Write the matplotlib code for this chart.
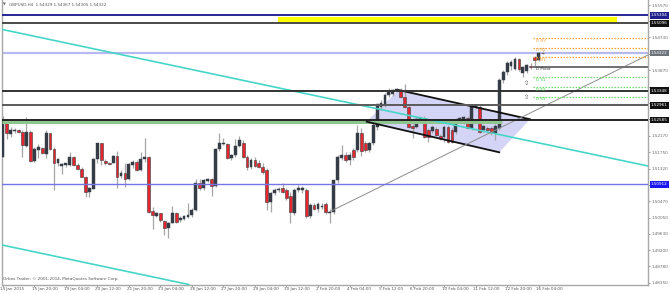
import numpy as np
import matplotlib
matplotlib.use("Agg")
import matplotlib.pyplot as plt
import matplotlib.transforms as mtransforms
from matplotlib.patches import Polygon, Rectangle

# GBPUSD H4 bars, 14 Jan 2015 12:00 .. 16 Feb 2015 08:00
opens = [1.51631, 1.52566, 1.52220, 1.52298, 1.52324, 1.52281, 1.51917, 1.52281, 1.51527, 1.51804,
         1.51848, 1.51701, 1.52237, 1.51822, 1.51458, 1.51397, 1.51415, 1.51415, 1.51631, 1.51415,
         1.51302, 1.51112, 1.50722, 1.50800, 1.51571, 1.51978, 1.51519, 1.51475, 1.51475, 1.51649,
         1.51129, 1.51198, 1.51060, 1.51415, 1.51501, 1.51285, 1.51562, 1.51631, 1.50220, 1.50090,
         1.50159, 1.49968, 1.49769, 1.49916, 1.50159, 1.49986, 1.50003, 1.50072, 1.50116, 1.50246,
         1.50938, 1.50808, 1.51008, 1.51042, 1.50869, 1.51822, 1.51961, 1.51961, 1.51597, 1.51675,
         1.51909, 1.51987, 1.51623, 1.51363, 1.51545, 1.51467, 1.51363, 1.51285, 1.50454, 1.50688,
         1.50766, 1.50818, 1.50766, 1.50610, 1.50169, 1.50766, 1.50766, 1.50766, 1.50091, 1.50377,
         1.50273, 1.50325, 1.50403, 1.50169, 1.50195, 1.51026, 1.51597, 1.51675, 1.51545, 1.51805,
         1.51805, 1.52247, 1.51987, 1.51805, 1.51987, 1.52402, 1.52922, 1.52974, 1.53233, 1.53259,
         1.53337, 1.53363, 1.53182, 1.52922, 1.52428, 1.52402, 1.52584, 1.52636, 1.52325, 1.52299,
         1.52351, 1.52169, 1.52143, 1.52402, 1.52325, 1.52273, 1.52558, 1.52506, 1.52636, 1.52376,
         1.52922, 1.52922, 1.52325, 1.52376, 1.52376, 1.52247, 1.52376, 1.53623, 1.53831, 1.53987,
         1.53909, 1.54169, 1.53805, 1.53857, 1.53987, 1.54220, 1.54143, 1.54329]
highs = [1.52688, 1.52601, 1.52411, 1.52367, 1.52359, 1.52324, 1.52653, 1.52324, 1.51891, 1.51952,
         1.51891, 1.52324, 1.52255, 1.51891, 1.51588, 1.51458, 1.51475, 1.51761, 1.51649, 1.51458,
         1.51354, 1.51129, 1.50835, 1.51588, 1.51995, 1.51995, 1.51562, 1.51501, 1.51675, 1.51787,
         1.51285, 1.51458, 1.51458, 1.51545, 1.51545, 1.51761, 1.52107, 1.51649, 1.50332, 1.50202,
         1.50176, 1.49986, 1.49942, 1.50350, 1.50202, 1.50090, 1.50116, 1.50419, 1.50289, 1.51042,
         1.51042, 1.51051, 1.51068, 1.51068, 1.51848, 1.52237, 1.52107, 1.51995, 1.51701, 1.52091,
         1.52169, 1.52065, 1.51675, 1.51597, 1.51623, 1.51545, 1.51467, 1.51337, 1.50714, 1.50818,
         1.50844, 1.50948, 1.50818, 1.50714, 1.50818, 1.50896, 1.50870, 1.50818, 1.50429, 1.50429,
         1.50454, 1.50429, 1.50454, 1.50273, 1.51026, 1.51675, 1.51935, 1.51753, 1.51753, 1.51857,
         1.52454, 1.52376, 1.52039, 1.52013, 1.52506, 1.53000, 1.53103, 1.53285, 1.53415, 1.53389,
         1.53415, 1.53415, 1.53519, 1.52974, 1.52480, 1.52662, 1.52688, 1.52688, 1.52376, 1.52454,
         1.52402, 1.52221, 1.52454, 1.52454, 1.52376, 1.52636, 1.52662, 1.52688, 1.52688, 1.52974,
         1.53000, 1.52974, 1.52454, 1.52428, 1.52428, 1.52480, 1.53675, 1.53883, 1.54117, 1.54143,
         1.54220, 1.54195, 1.53987, 1.54039, 1.54065, 1.54246, 1.54350, 1.54367]
lows = [1.51614, 1.52082, 1.52133, 1.52255, 1.52237, 1.51631, 1.51891, 1.51501, 1.51501, 1.51588,
        1.51701, 1.51588, 1.51804, 1.50765, 1.51389, 1.51181, 1.51371, 1.51389, 1.51389, 1.51285,
        1.51094, 1.50592, 1.50592, 1.50783, 1.51458, 1.51415, 1.51415, 1.51415, 1.51458, 1.50808,
        1.51068, 1.50835, 1.51025, 1.51328, 1.51267, 1.51267, 1.51501, 1.50176, 1.49743, 1.50055,
        1.49942, 1.49596, 1.49510, 1.49899, 1.49899, 1.49942, 1.49986, 1.50029, 1.50072, 1.50228,
        1.50765, 1.50765, 1.50982, 1.50609, 1.50852, 1.51787, 1.51934, 1.51562, 1.51545, 1.51623,
        1.51883, 1.51597, 1.51285, 1.51311, 1.51363, 1.51337, 1.51182, 1.50247, 1.50195, 1.50636,
        1.50714, 1.50688, 1.50506, 1.49909, 1.50117, 1.50714, 1.50688, 1.50039, 1.50039, 1.50247,
        1.50195, 1.50273, 1.50143, 1.49909, 1.50143, 1.50948, 1.51545, 1.51493, 1.51415, 1.51545,
        1.51753, 1.51649, 1.51753, 1.51753, 1.51935, 1.52325, 1.52844, 1.52922, 1.53182, 1.53207,
        1.53311, 1.53156, 1.52896, 1.52376, 1.52117, 1.52376, 1.52558, 1.52117, 1.52013, 1.52247,
        1.52169, 1.52065, 1.52013, 1.51987, 1.51987, 1.52221, 1.52532, 1.52480, 1.52351, 1.52325,
        1.52870, 1.52247, 1.52273, 1.52299, 1.52195, 1.52065, 1.52325, 1.53545, 1.53753, 1.53883,
        1.53883, 1.53857, 1.53701, 1.53805, 1.53909, 1.53961, 1.54117, 1.54305]
closes = [1.52584, 1.52237, 1.52324, 1.52324, 1.52272, 1.51926, 1.52281, 1.51519, 1.51822, 1.51891,
          1.51718, 1.52237, 1.51822, 1.51475, 1.51562, 1.51441, 1.51458, 1.51614, 1.51406, 1.51311,
          1.51112, 1.50722, 1.50808, 1.51571, 1.51978, 1.51545, 1.51458, 1.51441, 1.51649, 1.51112,
          1.51216, 1.51060, 1.51432, 1.51501, 1.51285, 1.51571, 1.51631, 1.50202, 1.50116, 1.50159,
          1.49986, 1.49769, 1.49916, 1.50159, 1.49942, 1.50029, 1.50090, 1.50116, 1.50246, 1.50938,
          1.50808, 1.51025, 1.51042, 1.50869, 1.51822, 1.51978, 1.51995, 1.51588, 1.51675, 1.51909,
          1.52065, 1.51623, 1.51363, 1.51545, 1.51389, 1.51363, 1.51233, 1.50454, 1.50688, 1.50766,
          1.50792, 1.50714, 1.50558, 1.50195, 1.50766, 1.50818, 1.50818, 1.50091, 1.50377, 1.50273,
          1.50403, 1.50351, 1.50195, 1.50195, 1.51026, 1.51623, 1.51675, 1.51545, 1.51675, 1.51623,
          1.52247, 1.51779, 1.51805, 1.51987, 1.52454, 1.53000, 1.53026, 1.53233, 1.53311, 1.53363,
          1.53389, 1.53182, 1.52922, 1.52402, 1.52376, 1.52610, 1.52636, 1.52143, 1.52143, 1.52402,
          1.52195, 1.52117, 1.52402, 1.52013, 1.52013, 1.52584, 1.52636, 1.52662, 1.52376, 1.52922,
          1.52974, 1.52273, 1.52428, 1.52325, 1.52273, 1.52428, 1.53623, 1.53831, 1.54065, 1.54091,
          1.54169, 1.53909, 1.53961, 1.54013, 1.53961, 1.54143, 1.54324, 1.54322]

time_labels = ["14 Jan 2015", "15 Jan 20:00", "19 Jan 04:00", "20 Jan 12:00", "21 Jan 20:00",
               "23 Jan 04:00", "26 Jan 12:00", "27 Jan 20:00", "29 Jan 04:00", "30 Jan 12:00",
               "2 Feb 20:00", "4 Feb 04:00", "5 Feb 12:00", "6 Feb 20:00", "10 Feb 04:00",
               "11 Feb 12:00", "12 Feb 20:00", "16 Feb 04:00"]
price_ticks = [1.48350, 1.48780, 1.49200, 1.49630, 1.50050, 1.50470, 1.50900, 1.51320, 1.51750,
               1.52170, 1.52600, 1.53020, 1.53450, 1.53870, 1.54300, 1.54730, 1.55150, 1.55570]
# tick labels that sit under the price boxes
hidden_ticks = [1.50900, 1.52600, 1.53020, 1.53450, 1.54300, 1.55150]

# horizontal levels (price, line colour, label background)
levels = [(1.55304, '#26269a', '#1f1f8c'),
          (1.55096, '#4a4a4a', '#111111'),
          (1.53348, '#333333', '#111111'),
          (1.52961, '#5a5a5a', '#111111'),
          (1.52585, '#222222', '#111111'),
          (1.50912, '#7474e6', '#1a1af0')]
bid = 1.54322
green_zone = 1.52528
yellow_box = (69.8, 155.9, 1.55096, 1.55255)

# daily pivots
piv_names = ["D R3", "D R2", "D R1", "D Pivot", "D S1", "D S2", "D S3"]
piv_values = [1.54706, 1.54462, 1.54213, 1.53969, 1.53693, 1.53433, 1.53189]

# drawn objects: (bar, price) anchors
cyan_top = [(-0.71, 1.54948), (163.76, 1.51389)]
cyan_low = [(-0.71, 1.49348), (163.76, 1.45789)]
gray_trend = [(83.05, 1.50206), (163.76, 1.54272)]
channel = [(92.36, 1.52540), (100.4, 1.53363), (133.8, 1.52603), (126.0, 1.51745)]
arrows = [(133.0, 1.53532), (133.0, 1.53168)]

fig = plt.figure(figsize=(6.7, 2.93), dpi=100)
ax = fig.add_axes([2 / 670, (293 - 284.5) / 293, 646 / 670, 284.5 / 293])
ax.set_xlim(-0.2, 163.76)
ax.set_ylim(1.48311, 1.55701)

for s in ['left', 'right', 'bottom']:
    ax.spines[s].set_color('#a8a8a8')
    ax.spines[s].set_linewidth(1)
ax.spines['top'].set_visible(False)

# candles
o = np.array(opens); h = np.array(highs); l = np.array(lows); c = np.array(closes)
x = np.arange(len(o))
up = c >= o
ax.vlines(x, l, h, color='#a6a6a6', lw=0.9, zorder=2)
bot = np.minimum(o, c)
hgt = np.maximum(np.abs(c - o), 0.00012)
ax.bar(x[up], hgt[up], bottom=bot[up], width=0.72, color='#363c46', edgecolor='#363c46', lw=0.3, zorder=3)
ax.bar(x[~up], hgt[~up], bottom=bot[~up], width=0.72, color='#e3262f', edgecolor='#3c3c3c', lw=0.4, zorder=3)

# channel
ax.add_patch(Polygon(channel, closed=True, fc='#d4d4f6', ec='none', zorder=1))
ax.plot([channel[1][0], channel[2][0]], [channel[1][1], channel[2][1]], color='#111111', lw=1.3, zorder=4)
ax.plot([channel[0][0], channel[3][0]], [channel[0][1], channel[3][1]], color='#111111', lw=1.3, zorder=4)

# trend lines
ax.axline(cyan_top[0], cyan_top[1], color='#45d6c8', lw=1.2, zorder=4)
ax.axline(cyan_low[0], cyan_low[1], color='#45d6c8', lw=1.2, zorder=4)
ax.plot([p[0] for p in gray_trend], [p[1] for p in gray_trend], color='#8c8c8c', lw=0.7, zorder=4)

# levels
ax.add_patch(Rectangle((yellow_box[0], yellow_box[2]), yellow_box[1] - yellow_box[0],
                       yellow_box[3] - yellow_box[2], fc='#ffff00', ec='none', zorder=3))
ax.axhline(bid, color='#b8b8f2', lw=1.6, zorder=1.5)
ax.hlines(green_zone, -0.2, 126.7, color='#8fc58f', lw=2.2, zorder=3.5)
for val, col, _ in levels:
    ax.axhline(val, color=col, lw=1.4 if val != 1.50912 else 1.0, zorder=4)

# pivots
piv_colors = ['#ffa040'] * 3 + ['#707070'] + ['#6fdc6f'] * 3
piv_text = ['#ff9a30'] * 3 + ['#333333'] + ['#44cc44'] * 3
for name, val, col, tcol in zip(piv_names, piv_values, piv_colors, piv_text):
    if name == "D Pivot":
        ax.hlines(val, 134.5, 163.76, color=col, lw=1.4, zorder=4)
    else:
        ax.hlines(val, 134.5, 163.76, color=col, lw=0.9, linestyles=(0, (1.2, 1.2)), zorder=4)
    ax.text(135.3, val - 0.00012, name, fontsize=3.0, color=tcol, va='top', ha='left', zorder=5)

for ax_, ay in arrows:
    ax.text(ax_, ay, "\u21e7", fontsize=4.5, color='#555555', ha='center', va='center', zorder=5)

# right price axis
ax.yaxis.tick_right()
ax.set_yticks(price_ticks)
ax.set_yticklabels(["" if t in hidden_ticks else f"{t:.5f}" for t in price_ticks])
ax.tick_params(axis='y', direction='out', length=1.5, width=0.6, colors='#8a8a8a',
               labelsize=3.0, labelcolor='#666666', pad=1.2)
ytr = mtransforms.blended_transform_factory(ax.transAxes, ax.transData)
for val, _, bg in levels + [(bid, None, '#6c737b')]:
    ax.text(1.0045, val, f"{val:.5f}", transform=ytr, fontsize=3.0, color='white', va='center', ha='left',
            bbox=dict(boxstyle='square,pad=0.3', fc=bg, ec='none'), clip_on=False, zorder=10)

# time axis
ax.set_xticks(np.arange(0, 8 * len(time_labels), 8))
ax.set_xticklabels(time_labels, ha='left')
ax.tick_params(axis='x', direction='out', length=1.5, width=0.6, colors='#8a8a8a',
               labelsize=3.0, labelcolor='#555555', pad=0.6)
shift = mtransforms.ScaledTranslation(-2.3 / 100, 0, fig.dpi_scale_trans)
for lab in ax.get_xticklabels():
    lab.set_transform(lab.get_transform() + shift)

fig.text(3 / 670, 1 - 5 / 293, "\u25bc", fontsize=2.6, color='#666666', va='center')
fig.text(9 / 670, 1 - 5 / 293, "GBPUSD,H4  1.54329 1.54367 1.54305 1.54322",
         fontsize=3.0, color='#555555', va='center')
fig.text(3 / 670, 1 - 279 / 293, "Orbex Trader, \u00a9 2001-2014, MetaQuotes Software Corp.",
         fontsize=3.0, color='#555555', va='center')

fig.savefig("out.png", dpi=100)
